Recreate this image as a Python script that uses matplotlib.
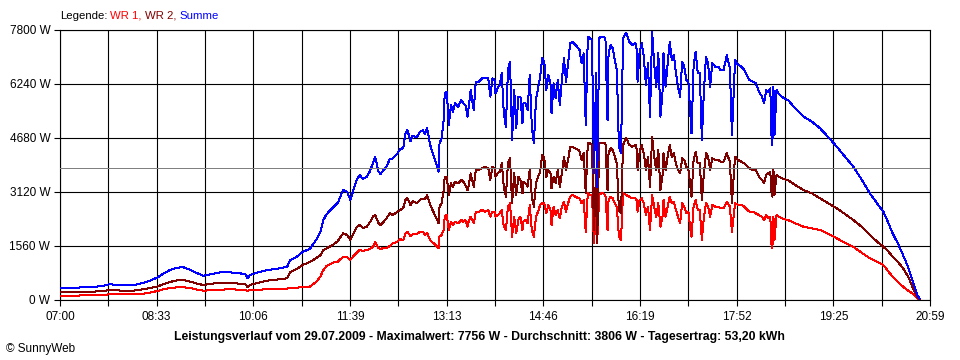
import numpy as np
import matplotlib
matplotlib.use('Agg')
from matplotlib import pyplot as plt

plt.rcParams['font.family'] = ['Liberation Sans', 'DejaVu Sans']

# Minuten nach 07:00
zeit = [0, 10, 19, 32, 41, 48, 58, 65, 72, 80,
        87, 94, 99, 106, 113, 119, 125, 132, 138, 145,
        154, 164, 174, 179, 181, 183, 190, 200, 209, 219,
        222, 229, 234, 241, 248, 251, 254, 257, 263, 268,
        273, 277, 280, 283, 286, 289, 292, 296, 299, 302,
        304, 307, 309, 312, 315, 318, 321, 325, 328, 331,
        333, 335, 338, 340, 344, 347, 350, 352, 354, 357,
        360, 363, 365, 366, 368, 370, 371, 373, 375, 377,
        379, 381, 384, 387, 389, 391, 393, 394, 396, 399,
        401, 404, 407, 410, 413, 415, 417, 419, 420, 422,
        424, 426, 428, 430, 432, 434, 436, 438, 440, 442,
        444, 446, 447, 449, 451, 453, 455, 457, 459, 461,
        463, 465, 467, 469, 471, 473, 474, 476, 478, 480,
        482, 484, 486, 488, 490, 492, 494, 497, 500, 501,
        503, 505, 507, 509, 511, 513, 515, 517, 518, 520,
        522, 524, 526, 528, 529, 531, 533, 535, 537, 539,
        541, 543, 546, 549, 552, 555, 556, 557, 559, 561,
        563, 565, 567, 569, 571, 573, 575, 577, 579, 581,
        582, 584, 586, 588, 590, 592, 594, 596, 598, 600,
        602, 604, 606, 608, 609, 611, 613, 615, 617, 619,
        621, 623, 625, 627, 629, 632, 635, 637, 640, 643,
        646, 648, 651, 654, 657, 660, 663, 665, 668, 671,
        674, 677, 679, 681, 683, 685, 686, 687, 688, 689,
        691, 693, 696, 699, 702, 709, 717, 725, 733, 741,
        749, 757, 765, 773, 781, 788, 794, 799, 803, 808,
        813, 818, 822, 825, 827, 829]

# WR 1 (W)
wr1 = [124, 116, 130, 136, 144, 165, 159, 165, 159, 182,
       217, 260, 303, 347, 367, 367, 347, 303, 269, 280,
       298, 309, 298, 289, 260, 289, 298, 309, 309, 332,
       347, 355, 376, 384, 549, 673, 867, 982, 1078, 1106,
       1251, 1242, 1156, 1271, 1358, 1445, 1416, 1445, 1473, 1540,
       1676, 1502, 1473, 1502, 1494, 1560, 1638, 1676, 1754, 1733,
       1907, 1973, 1849, 1892, 1907, 1965, 1973, 1878, 1936, 1733,
       1647, 1560, 1494, 1829, 1878, 2022, 2407, 2456, 2022, 2262,
       2167, 2262, 2216, 2311, 2262, 2311, 2118, 2262, 2407, 2216,
       2551, 2551, 2600, 2551, 2600, 2407, 2551, 2551, 2407, 2456,
       2505, 2600, 2118, 2022, 2695, 2794, 1829, 2407, 1927, 2311,
       2407, 2022, 2262, 2311, 2216, 2745, 2022, 1829, 2407, 2551,
       2745, 2794, 2794, 2505, 2745, 2600, 2167, 2695, 2456, 2600,
       2360, 2695, 2840, 2551, 2794, 2984, 3033, 2984, 2938, 2938,
       2794, 2889, 1973, 3083, 3033, 3033, 1638, 2794, 1638, 3033,
       3083, 3083, 3033, 2022, 2889, 2984, 2938, 2794, 2695, 1829,
       1733, 3083, 3033, 2984, 2938, 2938, 2889, 2551, 2889, 2938,
       2794, 2456, 2695, 2022, 3033, 2695, 2407, 2794, 2118, 2407,
       2889, 2407, 2695, 2984, 2794, 2840, 2600, 2407, 2216, 2794,
       2695, 2505, 2551, 2022, 1829, 2695, 2889, 2600, 2600, 1733,
       2407, 2794, 2695, 2407, 2745, 2695, 2695, 2649, 2649, 2840,
       2695, 1965, 2794, 2745, 2745, 2695, 2600, 2551, 2551, 2505,
       2456, 2407, 2311, 2456, 2360, 2407, 1638, 1494, 2407, 1733,
       2456, 2407, 2360, 2331, 2311, 2216, 2118, 2071, 2022, 1907,
       1783, 1655, 1540, 1366, 1204, 1107, 1011, 818, 673, 529,
       384, 269, 194, 116, 49, 20]

# WR 2 (W)
wr2 = [222, 222, 231, 240, 260, 289, 274, 269, 274, 309,
       347, 390, 448, 520, 569, 578, 534, 477, 433, 462,
       500, 491, 471, 448, 367, 433, 491, 558, 592, 627,
       800, 910, 1011, 1098, 1228, 1286, 1445, 1494, 1589, 1705,
       1927, 1878, 1733, 1907, 2095, 2167, 2080, 2118, 2253, 2427,
       2456, 2225, 2167, 2253, 2369, 2505, 2456, 2542, 2600, 2658,
       2889, 2938, 2745, 2860, 2794, 2889, 2932, 2918, 3033, 2745,
       2551, 2369, 2216, 2695, 2794, 3178, 3562, 3562, 3033, 3371,
       3273, 3418, 3371, 3467, 3418, 3322, 3178, 3273, 3660, 3273,
       3756, 3756, 3805, 3851, 3805, 3467, 3851, 3805, 3562, 3660,
       3707, 3949, 3273, 2984, 3949, 4094, 2794, 3660, 3033, 3562,
       3467, 3083, 3418, 3371, 3273, 3756, 2984, 2695, 3371, 3562,
       3707, 4189, 4094, 3562, 3756, 3660, 3227, 3562, 3371, 3756,
       3273, 3660, 4140, 3756, 4045, 4429, 4429, 4383, 4334, 4284,
       4045, 4238, 3083, 4527, 4527, 4478, 2022, 3756, 1638, 4527,
       4527, 4527, 4527, 3178, 4238, 4383, 4334, 4140, 3949, 2600,
       2505, 4478, 4690, 4478, 4429, 4478, 4383, 3756, 4284, 4478,
       4238, 3756, 4140, 3273, 4720, 4140, 3756, 4334, 3178, 3562,
       4238, 3756, 4140, 4478, 4140, 4238, 3949, 3756, 3660, 4094,
       4045, 3851, 3756, 3273, 2984, 4045, 4284, 3949, 3949, 2889,
       3660, 4238, 4140, 3756, 4094, 4045, 4045, 3995, 3995, 4238,
       3995, 2794, 4140, 4045, 3995, 3949, 3851, 3805, 3756, 3756,
       3562, 3467, 3371, 3611, 3660, 3707, 3178, 2984, 3756, 3033,
       3611, 3562, 3516, 3487, 3467, 3322, 3178, 3083, 2938, 2794,
       2649, 2485, 2311, 2118, 1878, 1684, 1540, 1395, 1251, 1105,
       915, 673, 384, 194, 78, 20]

zeit_labels = ['07:00', '08:33', '10:06', '11:39', '13:13',
               '14:46', '16:19', '17:52', '19:25', '20:59']
y_max = 7800
y_schritt = 1560
durchschnitt = 3806
titel = ('Leistungsverlauf vom 29.07.2009 - Maximalwert: 7756 W - '
         'Durchschnitt: 3806 W - Tagesertrag: 53,20 kWh')

summe = np.array(wr1) + np.array(wr2)

fig = plt.figure(figsize=(9.6, 3.6), dpi=100)
ax = fig.add_axes([60 / 960, 60 / 360, 870 / 960, 270 / 360])

# 1-Pixel-Linien ohne Kantenglättung, wie die SunnyWeb-Grafik
for werte, farbe in [(wr1, '#ff0000'), (wr2, '#800000'), (summe, '#0000ff')]:
    ax.plot(zeit, werte, color=farbe, lw=0.72, antialiased=False, zorder=3)
ax.axhline(durchschnitt, color='#808080', lw=0.72, antialiased=False, zorder=4)

ax.set_xlim(0, 839)
ax.set_ylim(0, y_max)

xt = np.linspace(0, 839, 2 * len(zeit_labels) - 1)
ax.set_xticks(xt)
ax.set_xticklabels([zeit_labels[i // 2] if i % 2 == 0 else '' for i in range(len(xt))])
yt = np.arange(0, y_max + 1, y_schritt)
ax.set_yticks(yt)
ax.set_yticklabels(['{} W'.format(v) for v in yt])

ax.grid(True, color='black', lw=0.8, zorder=1)
ax.set_axisbelow(True)
for s in ax.spines.values():
    s.set_linewidth(0.8)
ax.tick_params(direction='out', length=4, width=0.8, labelsize=8.5, colors='black')
ax.tick_params(axis='x', pad=4)
ax.tick_params(axis='y', pad=3)

fig.text(479 / 960, 1 - 337 / 360, titel, ha='center', va='center',
         fontsize=8.8, fontweight='bold')
fig.text(6 / 960, 1 - 349 / 360, '© SunnyWeb', ha='left', va='center', fontsize=8.5)

# Legende oben links, Stück für Stück
renderer = fig.canvas.get_renderer()
x0 = 60
teile = [('Legende:', 'black'), ('WR 1,', '#ff0000'), ('WR 2,', '#800000'), ('Summe', '#0000ff')]
for txt, col in teile:
    t = fig.text(x0 / 960, 1 - 16 / 360, txt, color=col, ha='left', va='center', fontsize=8.2)
    bb = t.get_window_extent(renderer)
    x0 = bb.x1 + 3

fig.savefig('out.png', dpi=100)
